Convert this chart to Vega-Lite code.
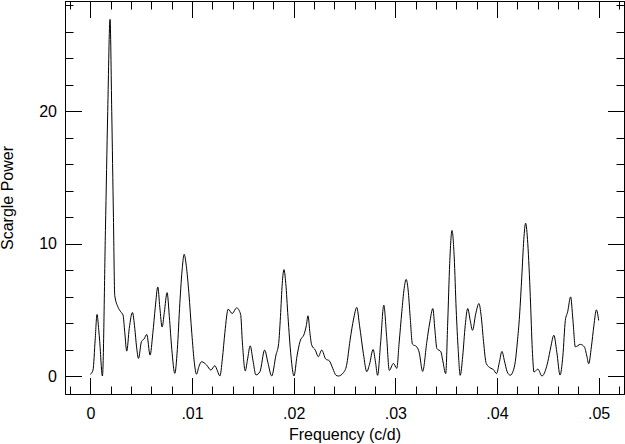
{
  "$schema": "https://vega.github.io/schema/vega-lite/v6.json",
  "width": 559,
  "height": 393,
  "autosize": {"type": "none"},
  "padding": {"left": 65, "top": 1, "right": 1, "bottom": 50},
  "background": "white",
  "config": {
    "view": {"stroke": "black", "strokeWidth": 1},
    "axis": {
      "grid": false,
      "domainColor": "black",
      "domainWidth": 1,
      "tickColor": "black",
      "tickWidth": 1,
      "labelFont": "Liberation Sans",
      "labelFontSize": 16,
      "labelColor": "black",
      "titleFont": "Liberation Sans",
      "titleFontSize": 16,
      "titleFontWeight": "normal",
      "titleColor": "black",
      "labelOverlap": false,
      "labelFlush": false
    }
  },
  "data": {
    "values": [
      {"f": 0.0, "p": 0.13}, {"f": 0.000256, "p": 0.45}, {"f": 0.000473, "p": 2.8}, {"f": 0.00065, "p": 4.65},
      {"f": 0.000818, "p": 3.5}, {"f": 0.000916, "p": 2.6}, {"f": 0.001182, "p": 0.0}, {"f": 0.001478, "p": 11.0},
      {"f": 0.001704, "p": 20.0}, {"f": 0.001931, "p": 26.95}, {"f": 0.002099, "p": 20.0}, {"f": 0.002266, "p": 12.0},
      {"f": 0.002394, "p": 6.1}, {"f": 0.002719, "p": 5.2}, {"f": 0.002985, "p": 4.85}, {"f": 0.003212, "p": 4.6},
      {"f": 0.003379, "p": 3.3}, {"f": 0.003576, "p": 1.88}, {"f": 0.003823, "p": 3.6}, {"f": 0.004138, "p": 4.8},
      {"f": 0.004365, "p": 3.6}, {"f": 0.004542, "p": 2.2}, {"f": 0.004729, "p": 1.33}, {"f": 0.005025, "p": 2.6},
      {"f": 0.005281, "p": 2.8}, {"f": 0.005547, "p": 3.14}, {"f": 0.005872, "p": 1.58}, {"f": 0.006138, "p": 3.2},
      {"f": 0.006384, "p": 5.2}, {"f": 0.006631, "p": 6.73}, {"f": 0.006828, "p": 5.2}, {"f": 0.007054, "p": 3.7},
      {"f": 0.007271, "p": 4.8}, {"f": 0.007547, "p": 6.3}, {"f": 0.007764, "p": 4.5}, {"f": 0.00801, "p": 2.0},
      {"f": 0.008305, "p": 0.2}, {"f": 0.008552, "p": 2.0}, {"f": 0.008798, "p": 5.5}, {"f": 0.009044, "p": 8.2},
      {"f": 0.009222, "p": 9.2}, {"f": 0.009438, "p": 8.3}, {"f": 0.009685, "p": 6.3}, {"f": 0.00998, "p": 3.2},
      {"f": 0.010227, "p": 1.0}, {"f": 0.010443, "p": 0.13}, {"f": 0.01067, "p": 0.7}, {"f": 0.010936, "p": 1.08},
      {"f": 0.011429, "p": 0.83}, {"f": 0.011852, "p": 0.45}, {"f": 0.012246, "p": 0.78}, {"f": 0.012493, "p": 0.4},
      {"f": 0.012739, "p": 0.0}, {"f": 0.012985, "p": 1.3}, {"f": 0.013232, "p": 3.3}, {"f": 0.013557, "p": 5.05},
      {"f": 0.013951, "p": 4.72}, {"f": 0.014384, "p": 5.15}, {"f": 0.014778, "p": 4.67}, {"f": 0.014956, "p": 2.5},
      {"f": 0.015232, "p": 0.38}, {"f": 0.015448, "p": 1.2}, {"f": 0.015724, "p": 2.28}, {"f": 0.01599, "p": 1.2},
      {"f": 0.016286, "p": 0.08}, {"f": 0.01668, "p": 0.33}, {"f": 0.017143, "p": 1.96}, {"f": 0.017468, "p": 1.0},
      {"f": 0.017833, "p": 0.0}, {"f": 0.018256, "p": 1.58}, {"f": 0.018522, "p": 2.46}, {"f": 0.0187, "p": 4.5},
      {"f": 0.018877, "p": 7.0}, {"f": 0.019044, "p": 8.04}, {"f": 0.019222, "p": 7.0}, {"f": 0.019438, "p": 4.5},
      {"f": 0.019734, "p": 1.5}, {"f": 0.02003, "p": 0.0}, {"f": 0.020325, "p": 1.5}, {"f": 0.020621, "p": 2.6},
      {"f": 0.021044, "p": 3.2}, {"f": 0.021241, "p": 3.8}, {"f": 0.021409, "p": 4.55}, {"f": 0.021606, "p": 3.2},
      {"f": 0.021773, "p": 2.34}, {"f": 0.022128, "p": 1.96}, {"f": 0.022424, "p": 1.46}, {"f": 0.022759, "p": 1.96},
      {"f": 0.023153, "p": 1.28}, {"f": 0.023507, "p": 1.15}, {"f": 0.023842, "p": 0.58}, {"f": 0.024167, "p": 0.05},
      {"f": 0.024394, "p": 0.0}, {"f": 0.024887, "p": 0.25}, {"f": 0.025202, "p": 0.8}, {"f": 0.025547, "p": 2.7},
      {"f": 0.025892, "p": 4.3}, {"f": 0.026207, "p": 5.18}, {"f": 0.026483, "p": 3.8}, {"f": 0.026857, "p": 1.7},
      {"f": 0.027192, "p": 0.33}, {"f": 0.027468, "p": 0.9}, {"f": 0.027813, "p": 2.0}, {"f": 0.028059, "p": 1.0},
      {"f": 0.028256, "p": 0.05}, {"f": 0.028552, "p": 2.5}, {"f": 0.028867, "p": 5.35}, {"f": 0.029143, "p": 3.0},
      {"f": 0.029409, "p": 0.42}, {"f": 0.029813, "p": 0.95}, {"f": 0.030148, "p": 0.58}, {"f": 0.030374, "p": 2.5},
      {"f": 0.03064, "p": 4.85}, {"f": 0.030867, "p": 6.6}, {"f": 0.031064, "p": 7.3}, {"f": 0.031261, "p": 6.5},
      {"f": 0.031458, "p": 4.5}, {"f": 0.031685, "p": 2.41}, {"f": 0.032118, "p": 2.2}, {"f": 0.032345, "p": 1.8},
      {"f": 0.03269, "p": 0.35}, {"f": 0.033103, "p": 2.6}, {"f": 0.033379, "p": 4.0}, {"f": 0.033695, "p": 5.1},
      {"f": 0.033892, "p": 3.5}, {"f": 0.034089, "p": 2.08}, {"f": 0.034483, "p": 1.83}, {"f": 0.03466, "p": 1.2},
      {"f": 0.034956, "p": 0.18}, {"f": 0.035153, "p": 4.0}, {"f": 0.03535, "p": 8.5}, {"f": 0.035576, "p": 11.0},
      {"f": 0.035793, "p": 9.0}, {"f": 0.03599, "p": 5.0}, {"f": 0.036187, "p": 2.0}, {"f": 0.036384, "p": 0.05},
      {"f": 0.036631, "p": 1.5}, {"f": 0.036877, "p": 3.8}, {"f": 0.037123, "p": 5.1}, {"f": 0.037369, "p": 4.2},
      {"f": 0.037596, "p": 3.45}, {"f": 0.037911, "p": 4.7}, {"f": 0.038227, "p": 5.48}, {"f": 0.038453, "p": 4.5},
      {"f": 0.03868, "p": 2.6}, {"f": 0.038946, "p": 0.95}, {"f": 0.039409, "p": 0.58}, {"f": 0.039635, "p": 0.5},
      {"f": 0.039961, "p": 0.18}, {"f": 0.040227, "p": 1.0}, {"f": 0.040493, "p": 1.86}, {"f": 0.040719, "p": 1.2},
      {"f": 0.041015, "p": 0.3}, {"f": 0.04131, "p": 0.06}, {"f": 0.041606, "p": 0.4}, {"f": 0.041803, "p": 1.08},
      {"f": 0.042, "p": 2.5}, {"f": 0.042227, "p": 4.6}, {"f": 0.042443, "p": 7.5}, {"f": 0.04264, "p": 10.3},
      {"f": 0.042818, "p": 11.55}, {"f": 0.043034, "p": 10.0}, {"f": 0.043281, "p": 6.0}, {"f": 0.043478, "p": 2.0},
      {"f": 0.043645, "p": 0.3}, {"f": 0.04402, "p": 0.52}, {"f": 0.044433, "p": 0.0}, {"f": 0.044759, "p": 0.4},
      {"f": 0.045005, "p": 1.08}, {"f": 0.0453, "p": 2.2}, {"f": 0.045596, "p": 3.08}, {"f": 0.045892, "p": 1.8},
      {"f": 0.046207, "p": 0.07}, {"f": 0.046483, "p": 1.5}, {"f": 0.046729, "p": 4.2}, {"f": 0.046956, "p": 4.85},
      {"f": 0.047251, "p": 5.98}, {"f": 0.047468, "p": 4.3}, {"f": 0.047714, "p": 2.2}, {"f": 0.048207, "p": 2.39},
      {"f": 0.048601, "p": 2.2}, {"f": 0.048847, "p": 1.5}, {"f": 0.049025, "p": 0.93}, {"f": 0.049291, "p": 2.2},
      {"f": 0.049537, "p": 3.8}, {"f": 0.049783, "p": 5.0}, {"f": 0.05001, "p": 4.2}
    ]
  },
  "layer": [
    {
      "mark": {"type": "line", "color": "black", "strokeWidth": 1, "interpolate": "monotone", "clip": true},
      "encoding": {
        "x": {
          "field": "f", "type": "quantitative",
          "scale": {"domain": [-0.0025, 0.0525], "nice": false, "zero": false},
          "axis": {
            "orient": "bottom",
            "title": "Frequency (c/d)",
            "titlePadding": 4,
            "values": [-0.002, 0, 0.002, 0.004, 0.006, 0.008, 0.01, 0.012, 0.014, 0.016, 0.018, 0.02, 0.022, 0.024, 0.026, 0.028, 0.03, 0.032, 0.034, 0.036, 0.038, 0.04, 0.042, 0.044, 0.046, 0.048, 0.05, 0.052],
            "tickSize": {"condition": {"test": "abs(datum.value*100 - round(datum.value*100)) < 0.000001", "value": -16.5}, "value": -8},
            "labelPadding": {"condition": {"test": "abs(datum.value*100 - round(datum.value*100)) < 0.000001", "value": 28}, "value": 20},
            "labelExpr": "abs(datum.value*100 - round(datum.value*100)) < 0.000001 ? (abs(datum.value) < 0.000000001 ? '0' : replace(format(datum.value, '.2f'), '0.', '.')) : ''"
          }
        },
        "y": {
          "field": "p", "type": "quantitative",
          "scale": {"domain": [-1.36, 28.34], "nice": false, "zero": false},
          "axis": {
            "orient": "left",
            "title": "Scargle Power",
            "titlePadding": 23,
            "values": [0, 2, 4, 6, 8, 10, 12, 14, 16, 18, 20, 22, 24, 26, 28],
            "tickSize": {"condition": {"test": "datum.value % 10 === 0", "value": -16.5}, "value": -8},
            "labelPadding": {"condition": {"test": "datum.value % 10 === 0", "value": 25}, "value": 17},
            "labelExpr": "datum.value % 10 === 0 ? datum.label : ''"
          }
        }
      }
    },
    {
      "mark": {"type": "line", "color": "black", "strokeWidth": 1, "opacity": 0, "interpolate": "monotone"},
      "encoding": {
        "x": {
          "field": "f", "type": "quantitative",
          "axis": {
            "orient": "top",
            "title": null,
            "labels": false,
            "values": [-0.002, 0, 0.002, 0.004, 0.006, 0.008, 0.01, 0.012, 0.014, 0.016, 0.018, 0.02, 0.022, 0.024, 0.026, 0.028, 0.03, 0.032, 0.034, 0.036, 0.038, 0.04, 0.042, 0.044, 0.046, 0.048, 0.05, 0.052],
            "tickSize": {"condition": {"test": "abs(datum.value*100 - round(datum.value*100)) < 0.000001", "value": -16.5}, "value": -8}
          }
        },
        "y": {
          "field": "p", "type": "quantitative",
          "axis": {
            "orient": "right",
            "title": null,
            "labels": false,
            "values": [0, 2, 4, 6, 8, 10, 12, 14, 16, 18, 20, 22, 24, 26, 28],
            "tickSize": {"condition": {"test": "datum.value % 10 === 0", "value": -16.5}, "value": -8}
          }
        }
      }
    }
  ],
  "resolve": {"axis": {"x": "independent", "y": "independent"}}
}
